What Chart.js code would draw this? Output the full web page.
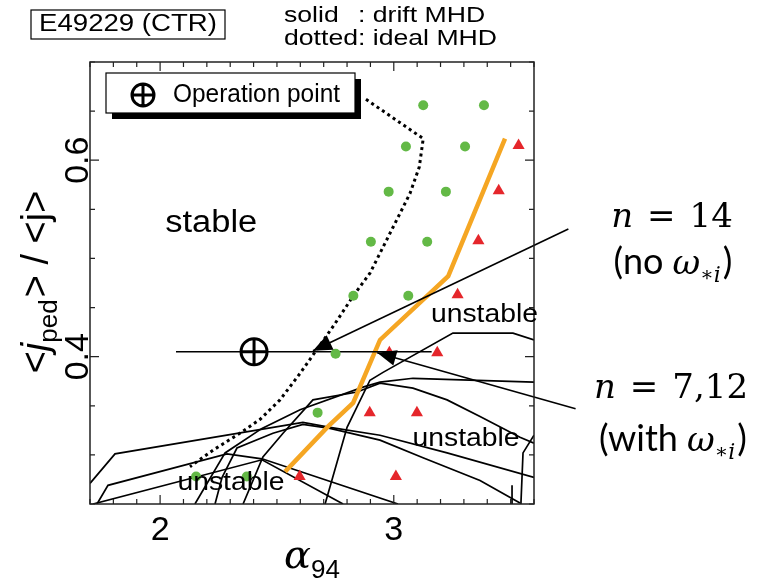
<!DOCTYPE html>
<html>
<head>
<meta charset="utf-8">
<title>E49229 stability diagram</title>
<script src="https://cdn.jsdelivr.net/npm/chart.js@4.4.0/dist/chart.umd.min.js"></script>
<style>
  body { margin: 0; background: #fff; }
  canvas { display: block; }
</style>
</head>
<body>
<canvas id="stability" width="768" height="580"></canvas>
<script>
// Axis ranges and labelled ticks
const xRange = [1.7, 3.6];
const yRange = [0.25, 0.70];
const xTickLabels = [2, 3];
const yTickLabels = [0.4, 0.6];
const xMinorStep = 0.1;
const yMinorStep = 0.05;

// Scan points: stable (green) and unstable (red)
const stableX = [3.126, 3.386, 3.052, 3.305, 2.978, 3.223, 2.902, 3.143, 2.827, 3.062, 2.751, 2.674, 2.371, 2.154];
const stableY = [0.656, 0.656, 0.614, 0.614, 0.568, 0.568, 0.517, 0.517, 0.462, 0.462, 0.403, 0.343, 0.278, 0.278];
const unstableX = [3.534, 3.449, 3.362, 3.273, 3.186, 2.981, 2.897, 3.099, 3.009, 2.597];
const unstableY = [0.615, 0.569, 0.518, 0.463, 0.404, 0.404, 0.343, 0.343, 0.278, 0.278];

// Drift MHD boundary (orange) and ideal MHD boundary (dotted)
const driftX = [3.476, 3.233, 2.941, 2.826, 2.719, 2.535];
const driftY = [0.622, 0.482, 0.417, 0.353, 0.329, 0.283];
const idealX = [2.881, 3.126, 3.109, 3.069, 3.012, 2.955, 2.898, 2.827, 2.741, 2.670, 2.599, 2.513, 2.427, 2.341, 2.228, 2.128];
const idealY = [0.662, 0.622, 0.593, 0.566, 0.539, 0.512, 0.485, 0.462, 0.431, 0.407, 0.383, 0.356, 0.336, 0.322, 0.305, 0.288];

// Thin drift MHD contours for the individual n
const contourX = [
  [2.149, 2.278, 2.436, 2.599, 2.868, 2.941, 3.082, 3.600],
  [2.355, 2.440, 2.526, 2.654, 2.843, 2.941, 3.082, 3.228, 3.369, 3.540, 3.600],
  [2.235, 2.265, 2.329, 2.483, 2.611, 2.727, 2.941, 3.125, 3.369, 3.540],
  [2.706, 2.800, 2.898, 2.954, 3.253, 3.510, 3.600],
  [1.700, 1.807, 2.611, 2.727, 2.941, 3.228, 3.600],
  [1.730, 1.777, 2.286, 2.436, 3.018],
  [1.713, 2.436, 2.783],
  [3.544, 3.553, 3.600],
  [3.506, 3.506]
];
const contourY = [
  [0.250, 0.302, 0.327, 0.346, 0.369, 0.374, 0.378, 0.374],
  [0.250, 0.298, 0.322, 0.356, 0.364, 0.373, 0.368, 0.356, 0.339, 0.318, 0.312],
  [0.250, 0.277, 0.307, 0.322, 0.331, 0.327, 0.315, 0.297, 0.274, 0.251],
  [0.250, 0.328, 0.376, 0.384, 0.424, 0.424, 0.417],
  [0.271, 0.301, 0.333, 0.328, 0.320, 0.302, 0.277],
  [0.250, 0.269, 0.301, 0.296, 0.250],
  [0.250, 0.295, 0.250],
  [0.250, 0.302, 0.320],
  [0.269, 0.250]
];

// Operation point and its alpha range
const opX = [2.402];
const opY = [0.405];
const opBarX = [2.068, 3.162];
const opBarY = [0.405, 0.405];

// Pointer lines from the n labels to the boundaries (tail, head)
const arrow14X = [3.747, 2.654];
const arrow14Y = [0.530, 0.406];
const arrow712X = [3.778, 2.929];
const arrow712Y = [0.347, 0.404];

// Region labels
const regionText = ['stable', 'unstable', 'unstable', 'unstable'];
const regionX = [2.219, 3.388, 3.309, 2.303];
const regionY = [0.536, 0.443, 0.316, 0.272];

const pts = (xs, ys) => xs.map((x, i) => ({ x: x, y: ys[i] }));

const lineBase = { showLine: true, pointRadius: 0, pointHoverRadius: 0, tension: 0, fill: false };

const datasets = [
    { ...lineBase, data: pts(arrow14X, arrow14Y), borderColor: '#000', borderWidth: 1.6, clip: false, arrow: true, order: 0 },
    { ...lineBase, data: pts(arrow712X, arrow712Y), borderColor: '#000', borderWidth: 1.6, clip: false, arrow: true, order: 0 },
    { data: pts(opX, opY), pointStyle: 'cross', pointRadius: 13, borderColor: '#000', borderWidth: 3, order: 1 },
    { data: pts(opX, opY), pointStyle: 'circle', pointRadius: 13, backgroundColor: '#fff', borderColor: '#000', borderWidth: 3, order: 1 },
    { data: pts(stableX, stableY), pointStyle: 'circle', pointRadius: 5, backgroundColor: '#63b946', borderWidth: 0, order: 2 },
    { ...lineBase, data: pts(opBarX, opBarY), borderColor: '#000', borderWidth: 1.6, order: 3 },
    { data: pts(unstableX, unstableY), pointStyle: 'triangle', pointRadius: 7, backgroundColor: '#e5262b', borderWidth: 0, order: 4 },
    { ...lineBase, data: pts(driftX, driftY), borderColor: '#f5a623', borderWidth: 4.5, order: 5 },
    { ...lineBase, data: pts(idealX, idealY), borderColor: '#000', borderWidth: 3, borderDash: [3, 3.5], order: 6 }
];
contourX.forEach((xs, i) => {
    datasets.push({ ...lineBase, data: pts(xs, contourY[i]), borderColor: '#000', borderWidth: 1.7, order: 7 });
});

// Text helpers
function fitText(ctx, text, x, y, font, width, align) {
    ctx.save();
    ctx.font = font;
    const sx = width / ctx.measureText(text).width;
    ctx.translate(x, y);
    ctx.scale(sx, 1);
    ctx.textAlign = align || 'center';
    ctx.textBaseline = 'middle';
    ctx.fillText(text, 0, 0);
    ctx.restore();
}

function drawParts(ctx, parts, cx, baseline, angle) {
    ctx.save();
    ctx.translate(cx, baseline);
    ctx.rotate(angle || 0);
    ctx.textAlign = 'left';
    ctx.textBaseline = 'alphabetic';
    const widths = parts.map(p => {
        ctx.font = p.font;
        return ctx.measureText(p.text).width + (p.gap || 0);
    });
    let xPos = -widths.reduce((s, w) => s + w, 0) / 2;
    parts.forEach((p, i) => {
        ctx.font = p.font;
        ctx.fillText(p.text, xPos, p.dy || 0);
        xPos += widths[i];
    });
    ctx.restore();
}

function opSymbol(ctx, x, y, r) {
    ctx.beginPath();
    ctx.arc(x, y, r, 0, Math.PI * 2);
    ctx.moveTo(x - r, y);
    ctx.lineTo(x + r, y);
    ctx.moveTo(x, y - r);
    ctx.lineTo(x, y + r);
    ctx.stroke();
}

const isMajor = (v, list) => list.some(t => Math.abs(t - v) < 1e-6);

// Frame, inward ticks, arrowheads and all text
const decorations = {
    id: 'decorations',
    afterDatasetsDraw(chart) {
        const ctx = chart.ctx;
        chart.data.datasets.forEach((ds, i) => {
            if (!ds.arrow) return;
            const p = chart.getDatasetMeta(i).data;
            const tip = p[p.length - 1];
            const prev = p[p.length - 2];
            const ang = Math.atan2(tip.y - prev.y, tip.x - prev.x);
            ctx.save();
            ctx.translate(tip.x, tip.y);
            ctx.rotate(ang);
            ctx.beginPath();
            ctx.moveTo(0, 0);
            ctx.lineTo(-19, -8);
            ctx.lineTo(-19, 8);
            ctx.closePath();
            ctx.fillStyle = '#000';
            ctx.fill();
            ctx.restore();
        });
    },
    afterDraw(chart) {
        const { ctx, chartArea: a, scales: { x, y } } = chart;
        ctx.save();
        ctx.strokeStyle = '#222';
        ctx.lineWidth = 1.5;
        ctx.strokeRect(a.left, a.top, a.right - a.left, a.bottom - a.top);

        ctx.lineWidth = 1.2;
        ctx.beginPath();
        for (let k = Math.ceil(xRange[0] / xMinorStep - 1e-9); k * xMinorStep <= xRange[1] + 1e-9; k++) {
            const v = k * xMinorStep;
            const px = x.getPixelForValue(v);
            const len = isMajor(v, xTickLabels) ? 9 : 5;
            ctx.moveTo(px, a.bottom); ctx.lineTo(px, a.bottom - len);
            ctx.moveTo(px, a.top); ctx.lineTo(px, a.top + len);
        }
        for (let k = Math.ceil(yRange[0] / yMinorStep - 1e-9); k * yMinorStep <= yRange[1] + 1e-9; k++) {
            const v = k * yMinorStep;
            const py = y.getPixelForValue(v);
            const len = isMajor(v, yTickLabels) ? 9 : 5;
            ctx.moveTo(a.left, py); ctx.lineTo(a.left + len, py);
            ctx.moveTo(a.right, py); ctx.lineTo(a.right - len, py);
        }
        ctx.stroke();

        // tick labels
        ctx.fillStyle = '#000';
        ctx.font = '34px "Liberation Sans"';
        ctx.textAlign = 'center';
        ctx.textBaseline = 'alphabetic';
        xTickLabels.forEach(v => ctx.fillText(String(v), x.getPixelForValue(v), a.bottom + 36));
        yTickLabels.forEach(v => {
            ctx.save();
            ctx.translate(a.left - 2, y.getPixelForValue(v));
            ctx.rotate(-Math.PI / 2);
            ctx.fillText(v.toFixed(1), 0, 0);
            ctx.restore();
        });

        // axis titles
        const midX = (a.left + a.right) / 2;
        drawParts(ctx, [
            { text: 'α', font: 'italic 40px "DejaVu Serif"' },
            { text: '94', font: '26px "Liberation Sans"', dy: 10 }
        ], midX, a.bottom + 64);
        drawParts(ctx, [
            { text: '<', font: '38px "Liberation Sans"' },
            { text: 'j', font: 'italic 38px "Liberation Sans"' },
            { text: 'ped', font: '26px "Liberation Sans"', dy: 9, gap: 2 },
            { text: '> / <j>', font: '38px "Liberation Sans"' }
        ], 48, 282, -Math.PI / 2);

        // region labels
        regionText.forEach((t, i) => {
            const big = t === 'stable';
            fitText(ctx, t, x.getPixelForValue(regionX[i]), y.getPixelForValue(regionY[i]),
                big ? '31px "Liberation Sans"' : '26px "Liberation Sans"', big ? 92 : 107);
        });

        // legend box with drop shadow
        const lx = a.left + 16, ly = a.top + 11, lw = 249, lh = 40;
        ctx.fillRect(lx + 6, ly + 6, lw, lh);
        ctx.fillStyle = '#fff';
        ctx.fillRect(lx, ly, lw, lh);
        ctx.strokeStyle = '#000';
        ctx.lineWidth = 1.2;
        ctx.strokeRect(lx, ly, lw, lh);
        ctx.lineWidth = 3;
        opSymbol(ctx, lx + 37, ly + 22, 11);
        ctx.fillStyle = '#000';
        fitText(ctx, 'Operation point', lx + 67, ly + 22, '25px "Liberation Sans"', 167, 'left');

        // case title and line-style key
        ctx.lineWidth = 1.2;
        ctx.strokeRect(31, 10, 194, 29);
        fitText(ctx, 'E49229 (CTR)', 128, 25, '23px "Liberation Sans"', 178);
        ctx.font = '22px "Liberation Sans"';
        const sx = 213 / ctx.measureText('dotted: ideal MHD').width;
        const colonX = 284 + sx * ctx.measureText('dotted').width;
        fitText(ctx, 'solid', 284, 16, '22px "Liberation Sans"', sx * ctx.measureText('solid').width, 'left');
        fitText(ctx, ': drift MHD', colonX, 16, '22px "Liberation Sans"', sx * ctx.measureText(': drift MHD').width, 'left');
        fitText(ctx, 'dotted: ideal MHD', 284, 39, '22px "Liberation Sans"', 213, 'left');

        // mode number labels at the arrow tails
        const serif = '"DejaVu Serif"';
        drawParts(ctx, [
            { text: 'n', font: 'italic 34px ' + serif, gap: 14 },
            { text: '=', font: '34px ' + serif, gap: 14 },
            { text: '14', font: '34px ' + serif }
        ], 672, 227);
        drawParts(ctx, [
            { text: '(no', font: '36px Lato', gap: 9 },
            { text: 'ω', font: 'italic 34px ' + serif },
            { text: '∗', font: '20px ' + serif, dy: 7 },
            { text: 'i', font: 'italic 22px ' + serif, dy: 8, gap: 2 },
            { text: ')', font: '36px Lato' }
        ], 673, 274);
        drawParts(ctx, [
            { text: 'n', font: 'italic 34px ' + serif, gap: 14 },
            { text: '=', font: '34px ' + serif, gap: 14 },
            { text: '7,12', font: '34px ' + serif }
        ], 671, 398);
        drawParts(ctx, [
            { text: '(with', font: '36px Lato', gap: 9 },
            { text: 'ω', font: 'italic 34px ' + serif },
            { text: '∗', font: '20px ' + serif, dy: 7 },
            { text: 'i', font: 'italic 22px ' + serif, dy: 8, gap: 2 },
            { text: ')', font: '36px Lato' }
        ], 673, 451);
        ctx.restore();
    }
};

new Chart(document.getElementById('stability'), {
    type: 'scatter',
    data: { datasets: datasets },
    options: {
        responsive: false,
        animation: false,
        events: [],
        layout: { padding: { left: 90, top: 62, right: 234, bottom: 76 } },
        plugins: { legend: { display: false }, tooltip: { enabled: false } },
        scales: {
            x: { type: 'linear', min: xRange[0], max: xRange[1], display: false },
            y: { type: 'linear', min: yRange[0], max: yRange[1], display: false }
        }
    },
    plugins: [decorations]
});
</script>
</body>
</html>
